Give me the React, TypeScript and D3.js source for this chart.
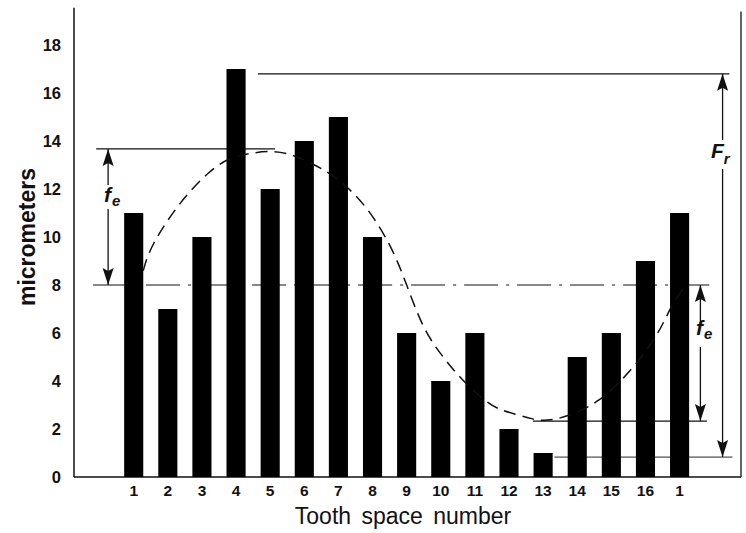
import React from 'react';
import * as d3 from 'd3';

// Tooth space labels and measured values (micrometers)
const teeth = ['1', '2', '3', '4', '5', '6', '7', '8', '9', '10', '11', '12', '13', '14', '15', '16', '1'];
const values = [11, 7, 10, 17, 12, 14, 15, 10, 6, 4, 6, 2, 1, 5, 6, 9, 11];
const yTicks = [0, 2, 4, 6, 8, 10, 12, 14, 16, 18];

// dashed eccentricity curve (tooth position, value)
const curvePos = [1.28, 1.48, 2.36, 3.25, 3.8, 4.41, 5.08, 5.67, 6.75, 7.33, 7.92, 8.6, 9.0, 9.5, 10.06, 10.64, 11.35, 11.73, 12.23, 12.7, 13.1, 13.69, 14.66, 15.63, 16.41, 16.8, 17.2];
const curveVal = [8.6, 9.6, 11.5, 12.8, 13.3, 13.5, 13.6, 13.45, 12.7, 12.0, 11.1, 9.5, 8.0, 6.1, 5.0, 4.0, 3.1, 2.8, 2.6, 2.4, 2.33, 2.5, 3.1, 4.5, 6.0, 7.3, 8.0];

// reference levels
const meanLevel = 8;
const feTop = 13.67;
const feBottom = 2.33;
const frTop = 16.8;
const frBottom = 0.83;

const W = 746;
const H = 533;

export default function App() {
  const x = d3.scaleLinear().domain([-0.75, 18.8]).range([74, 741]);
  const y = d3.scaleLinear().domain([0, 18]).range([477, 45]);
  const step = x(2) - x(1);
  const barW = step * 0.56;

  const line = d3.line<number>()
    .x((_, i) => x(curvePos[i]))
    .y(d => y(d))
    .curve(d3.curveBasis);

  const ink = '#111';
  const hline = (v: number, p0: number, p1: number, extra = {}) => (
    <line x1={x(p0)} x2={x(p1)} y1={y(v)} y2={y(v)} stroke={ink} strokeWidth={1.2} {...extra} />
  );

  // vertical dimension arrow with a gap for its label
  const arrow = (p: number, vTop: number, vBot: number, gapTop: number, gapBot: number) => (
    <g>
      <line x1={x(p)} x2={x(p)} y1={y(vTop)} y2={gapTop} stroke={ink} strokeWidth={1.3} markerStart="url(#head)" />
      <line x1={x(p)} x2={x(p)} y1={gapBot} y2={y(vBot)} stroke={ink} strokeWidth={1.3} markerEnd="url(#head)" />
    </g>
  );

  return (
    <svg width={W} height={H} style={{ position: 'absolute', left: 0, top: 0, background: '#fff' }}
      fontFamily="'Liberation Sans', Arial, Helvetica, sans-serif">
      <defs>
        <marker id="head" viewBox="-18 -7 19 14" refX={0} refY={0} markerWidth={19} markerHeight={14}
          markerUnits="userSpaceOnUse" orient="auto-start-reverse">
          <path d="M0,0 L-17,-5.5 L-14,0 L-17,5.5 Z" fill={ink} />
        </marker>
      </defs>

      {/* frame */}
      <line x1={x(-0.75)} x2={x(-0.75)} y1={y(19.55)} y2={y(0)} stroke={ink} strokeWidth={1.5} />
      <line x1={x(-0.75)} x2={x(18.8)} y1={y(0)} y2={y(0)} stroke={ink} strokeWidth={1.5} />
      <line x1={x(18.8)} x2={x(18.8)} y1={y(19.4)} y2={y(0)} stroke={ink} strokeWidth={1.3} />

      {/* y tick labels */}
      {yTicks.map(t => (
        <text key={t} x={61} y={y(t)} dy="0.36em" textAnchor="end" fontSize={16.5} fontWeight="bold" fill={ink}>{t}</text>
      ))}

      {/* x tick labels */}
      {teeth.map((t, i) => (
        <text key={i} x={x(i + 1)} y={496} textAnchor="middle" fontSize={15.5} fontWeight="bold" fill={ink}>{t}</text>
      ))}

      {/* reference lines */}
      {hline(feTop, -0.1, 5.14)}
      {hline(frTop, 4.64, 18.46)}
      {hline(meanLevel, -0.19, 17.87, { strokeDasharray: '34 8 3 8' })}
      {hline(feBottom, 12.7, 17.8)}
      {hline(frBottom, 13.33, 18.55, { strokeWidth: 0.9 })}

      {/* bars */}
      {values.map((v, i) => (
        <rect key={i} x={x(i + 1) - barW / 2} y={y(v)} width={barW} height={y(0) - y(v)} fill="#000" />
      ))}

      {/* fitted curve */}
      <path d={line(curveVal) || ''} fill="none" stroke={ink} strokeWidth={1.5} strokeDasharray="12 7" />

      {/* dimension arrows */}
      {arrow(0.25, feTop, meanLevel, 185, 209)}
      {arrow(17.61, meanLevel, feBottom, 323, 347)}
      {arrow(18.26, frTop, frBottom, 140, 169)}

      {/* annotation labels */}
      <text x={104} y={202} fontSize={21} fontWeight="bold" fontStyle="italic" fill={ink}>f<tspan fontSize={15} dx={1} dy={4}>e</tspan></text>
      <text x={696} y={335} fontSize={21} fontWeight="bold" fontStyle="italic" fill={ink}>f<tspan fontSize={15} dx={1} dy={4}>e</tspan></text>
      <text x={711} y={158} fontSize={21} fontWeight="bold" fontStyle="italic" fill={ink}>F<tspan fontSize={15} dx={0} dy={6}>r</tspan></text>

      {/* axis titles */}
      <text x={403} y={524} textAnchor="middle" fontSize={23} wordSpacing={4} fill={ink}>Tooth space number</text>
      <text transform={`translate(35,237) rotate(-90)`} textAnchor="middle" fontSize={23} fontWeight="bold" fill={ink}>micrometers</text>
    </svg>
  );
}
